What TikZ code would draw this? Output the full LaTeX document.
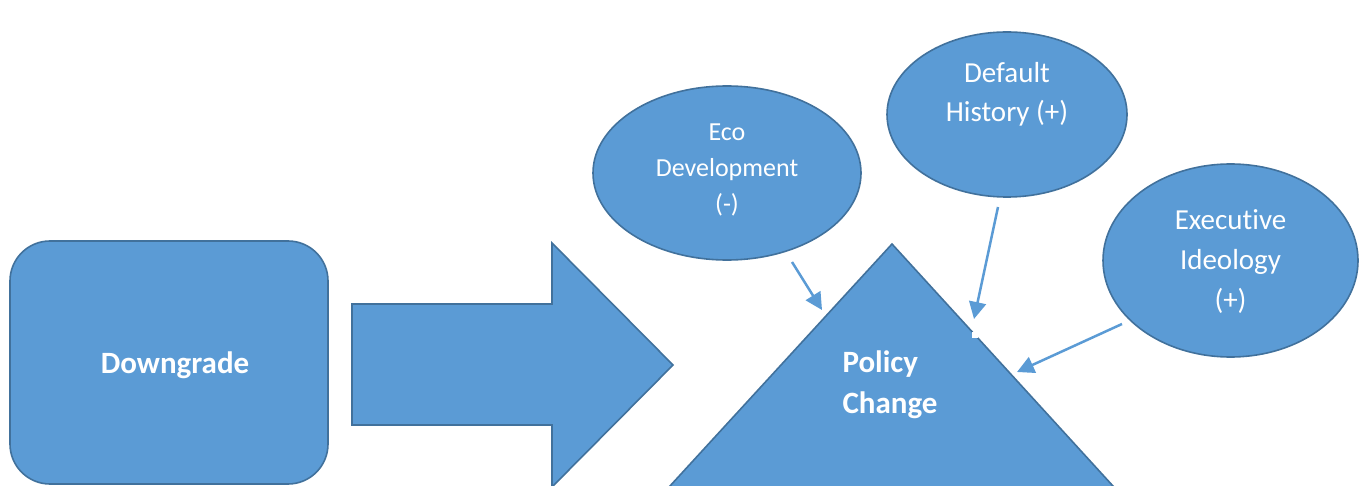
\documentclass[tikz,border=0pt]{standalone}
\usepackage{fontspec}
\setmainfont[Ligatures=NoCommon]{Carlito}
\usetikzlibrary{shapes.geometric,arrows.meta}
\definecolor{boxfill}{HTML}{5B9BD5}
\definecolor{boxline}{HTML}{41719C}
\begin{document}
\begin{tikzpicture}[x=1pt,y=-1pt,
  shapebody/.style={fill=boxfill,draw=boxline,line width=1.6pt},
  bubble/.style={shapebody,ellipse,inner sep=0pt},
  bubbletext/.style={text=white,align=center,inner sep=0pt},
  boldtext/.style={text=white,align=center,inner sep=0pt,font=\bfseries\fontsize{31}{41}\selectfont},
  link/.style={draw=boxfill,line width=2.5pt,-{Triangle[length=17pt,width=17pt]}}
]
\useasboundingbox (0,0) rectangle (1364,486);
\clip (0,0) rectangle (1364,486);

% source box
\node[shapebody,rounded corners=40pt,minimum width=318pt,minimum height=243pt] (down) at (169,362.5) {};
\node[boldtext] (downtxt) at (175,365) {Downgrade};

% block arrow
\draw[shapebody] (352,304) -- (552,304) -- (552,243) -- (673,365) -- (552,487)
  -- (552,425) -- (352,425) -- cycle;

% policy triangle
\draw[shapebody] (892,244) -- (1116.6,490) -- (666.3,490) -- cycle;
\node[boldtext,align=left] (policy) at (890,385) {Policy\\Change};
\fill[white] (972,332) rectangle (978,338);

% influencing factors
\node[bubble,minimum width=268pt,minimum height=174pt] (eco) at (727,173) {};
\node[bubbletext,font=\fontsize{26}{36}\selectfont] (ecotxt) at (727,170) {Eco\\Development\\(-)};

\node[bubble,minimum width=240pt,minimum height=165pt] (hist) at (1007,114.5) {};
\node[bubbletext,font=\fontsize{29}{39}\selectfont] (histtxt) at (1007,94) {Default\\History (+)};

\node[bubble,minimum width=255pt,minimum height=193pt] (exec) at (1230.5,260.5) {};
\node[bubbletext,font=\fontsize{29}{40}\selectfont] (exectxt) at (1230.5,262) {Executive\\Ideology\\(+)};

% connectors
\coordinate (ecoTail) at (792,262);
\coordinate (ecoHead) at (822,310);
\coordinate (histTail) at (998,207);
\coordinate (histHead) at (974,319);
\coordinate (execTail) at (1122,324);
\coordinate (execHead) at (1017,372);
\draw[link] (ecoTail) -- (ecoHead);
\draw[link] (histTail) -- (histHead);
\draw[link] (execTail) -- (execHead);
\end{tikzpicture}
\end{document}
